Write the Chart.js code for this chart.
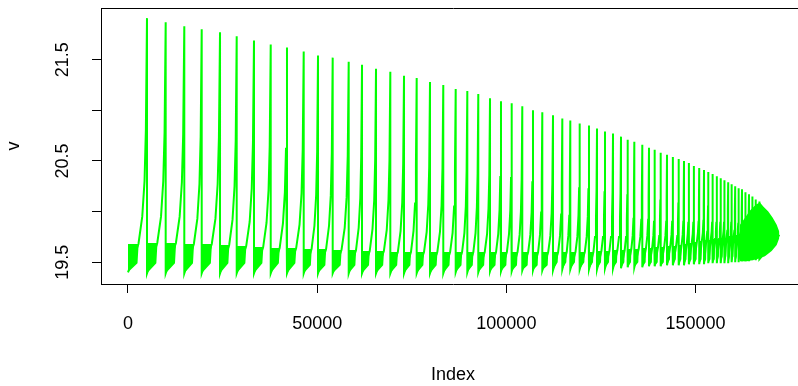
<!DOCTYPE html>
<html>
<head>
<meta charset="utf-8">
<script src="https://cdn.jsdelivr.net/npm/chart.js@4/dist/chart.umd.min.js"></script>
<style>
html,body{margin:0;padding:0;overflow:hidden;background:#fff;width:798px;height:386px}
#wrap{position:absolute;left:0;top:0;width:812px;height:386px}
</style>
</head>
<body>
<div id="wrap"><canvas id="c" width="812" height="386"></canvas></div>
<script>
// ---- data ----
const spikeIdx = [5020, 9960, 14880, 19480, 24320, 28730, 33300, 37720, 42020, 46440,
  50220, 54100, 58330, 61850, 65550, 69330, 72950, 76300, 79820, 83330,
  86610, 89680, 92580, 95680, 98580, 101410, 104210, 107040, 109500, 112330,
  114790, 116900, 119380, 121840, 123960, 126070, 128190, 130300, 132070, 133820,
  135930, 137700, 139230, 140790, 142460, 144040, 145550, 146950, 148270, 149590,
  150970, 152240, 153370, 154540, 155650, 156680, 157660, 158630, 159560, 160480,
  161410, 162280, 163210, 164130, 165030, 165950, 166880];
const spikePeak = [21.91, 21.87, 21.83, 21.80, 21.77, 21.73, 21.69, 21.65, 21.62, 21.58,
  21.54, 21.52, 21.48, 21.45, 21.41, 21.38, 21.34, 21.32, 21.28, 21.25,
  21.21, 21.19, 21.16, 21.12, 21.09, 21.07, 21.04, 21.00, 20.98, 20.95,
  20.92, 20.90, 20.87, 20.85, 20.82, 20.79, 20.77, 20.74, 20.71, 20.69,
  20.66, 20.63, 20.61, 20.58, 20.56, 20.54, 20.52, 20.50, 20.48, 20.45,
  20.43, 20.41, 20.39, 20.37, 20.35, 20.33, 20.31, 20.29, 20.27, 20.25,
  20.23, 20.22, 20.19, 20.17, 20.15, 20.12, 20.10];
const cycleLow = [19.40, 19.39, 19.39, 19.39, 19.39, 19.39, 19.39, 19.39, 19.39, 19.39,
  19.39, 19.39, 19.39, 19.39, 19.39, 19.39, 19.39, 19.39, 19.39, 19.39,
  19.39, 19.40, 19.40, 19.40, 19.41, 19.41, 19.41, 19.42, 19.42, 19.42,
  19.42, 19.43, 19.43, 19.43, 19.43, 19.43, 19.44, 19.44, 19.44, 19.45,
  19.45, 19.45, 19.46, 19.46, 19.46, 19.47, 19.47, 19.47, 19.47, 19.48,
  19.48, 19.48, 19.48, 19.49, 19.49, 19.49, 19.49, 19.49, 19.49, 19.50,
  19.50, 19.50, 19.51, 19.51, 19.51, 19.52, 19.52, 19.53];
const blobEndLow = [19.49, 19.49, 19.49, 19.49, 19.49, 19.49, 19.49, 19.49, 19.49, 19.49,
  19.47, 19.47, 19.47, 19.47, 19.47, 19.47, 19.47, 19.47, 19.47, 19.47,
  19.47, 19.47, 19.47, 19.47, 19.47, 19.47, 19.47, 19.47, 19.47, 19.47,
  19.50, 19.50, 19.50, 19.50, 19.50, 19.50, 19.50, 19.50, 19.50, 19.50,
  19.50, 19.50, 19.50, 19.50, 19.50, 19.53, 19.53, 19.53, 19.53, 19.53,
  19.53, 19.53, 19.53, 19.53, 19.53, 19.56, 19.56, 19.56, 19.56, 19.56,
  19.56, 19.56, 19.56, 19.56, 19.56, 19.56, 19.56];
const cycleTop = [19.68, 19.69, 19.69, 19.68, 19.68, 19.67, 19.66, 19.65, 19.64, 19.64,
  19.63, 19.63, 19.62, 19.62, 19.61, 19.61, 19.60, 19.60, 19.60, 19.60,
  19.60, 19.60, 19.60, 19.60, 19.60, 19.60, 19.60, 19.60, 19.60, 19.60,
  19.60, 19.60, 19.60, 19.60, 19.60, 19.61, 19.61, 19.62, 19.62, 19.63,
  19.63, 19.64, 19.64, 19.65, 19.65, 19.66, 19.66, 19.67, 19.68, 19.69,
  19.70, 19.71, 19.72, 19.72, 19.73, 19.73, 19.74, 19.74, 19.75, 19.75,
  19.76, 19.76, 19.77, 19.77, 19.78, 19.78, 19.79];
const rampA = [19.95, 19.95, 19.95, 19.93, 19.93, 19.92, 19.90, 19.89, 19.88, 19.87,
  19.86, 19.86, 19.84, 19.84, 19.83, 19.82, 19.81, 19.81, 19.80, 19.80,
  19.79, 19.79, 19.79, 19.78, 19.78, 19.78, 19.77, 19.77, 19.77, 19.76,
  19.76, 19.76, 19.75, 19.75, 19.75, 19.75, 19.75, 19.75, 19.75, 19.76,
  19.75, 19.76, 19.76, 19.76, 19.76, 19.77, 19.76, 19.77, 19.78, 19.78,
  19.79, 19.79, 19.80, 19.80, 19.80, 19.80, 19.81, 19.81, 19.81, 19.81,
  19.82, 19.82, 19.82, 19.82, 19.82, 19.82, 19.83];
const rampB = [20.30, 20.30, 20.29, 20.27, 20.27, 20.25, 20.23, 20.21, 20.19, 20.18,
  20.16, 20.16, 20.14, 20.13, 20.11, 20.11, 20.09, 20.08, 20.07, 20.06,
  20.05, 20.05, 20.04, 20.03, 20.02, 20.01, 20.00, 19.99, 19.99, 19.98,
  19.97, 19.96, 19.96, 19.95, 19.94, 19.94, 19.93, 19.93, 19.93, 19.93,
  19.92, 19.92, 19.91, 19.91, 19.90, 19.91, 19.90, 19.90, 19.90, 19.90,
  19.90, 19.91, 19.91, 19.90, 19.90, 19.90, 19.90, 19.89, 19.90, 19.89,
  19.89, 19.89, 19.89, 19.88, 19.88, 19.88, 19.88];
const rampC = [20.80, 20.78, 20.76, 20.74, 20.73, 20.70, 20.68, 20.65, 20.63, 20.61,
  20.59, 20.58, 20.55, 20.54, 20.51, 20.50, 20.47, 20.46, 20.44, 20.43,
  20.41, 20.40, 20.38, 20.36, 20.35, 20.34, 20.32, 20.30, 20.29, 20.28,
  20.26, 20.25, 20.24, 20.23, 20.21, 20.20, 20.19, 20.18, 20.17, 20.16,
  20.15, 20.14, 20.13, 20.12, 20.11, 20.10, 20.09, 20.09, 20.08, 20.07,
  20.07, 20.06, 20.06, 20.05, 20.04, 20.03, 20.03, 20.02, 20.01, 20.00,
  20.00, 19.99, 19.98, 19.97, 19.97, 19.95, 19.95];
// final solid blob (end of the series)
const tailUpperIdx = [161750, 163070, 164390, 165980, 167040, 167910, 169230, 170400, 171450, 172140, 172170];
const tailUpperVal = [19.87, 19.94, 20.01, 20.07, 20.09, 20.05, 20.00, 19.94, 19.87, 19.80, 19.77];
const tailLowerIdx = [161750, 163600, 166160, 168350, 170120, 171450, 172140, 172170];
const tailLowerVal = [19.51, 19.51, 19.53, 19.56, 19.61, 19.67, 19.74, 19.77];

const xTicks = [0, 50000, 100000, 150000];
const xTickLabels = ['0', '50000', '100000', '150000'];
const yTicks = [19.5, 20, 20.5, 21, 21.5];
const yTickLabels = ['19.5', '', '20.5', '', '21.5'];
const xTitle = 'Index';
const yTitle = 'v';

// ---- build library datasets from the arrays ----
const trace = [], blobUpper = [], blobLower = [];
let start = 1;
for (let i = 0; i < spikeIdx.length; i++) {
  const end = spikeIdx[i], w = end - start;
  trace.push({x: start, y: cycleLow[i]});
  trace.push({x: start + 0.55 * w, y: cycleTop[i]});
  trace.push({x: start + 0.75 * w, y: rampA[i]});
  trace.push({x: start + 0.87 * w, y: rampB[i]});
  trace.push({x: start + 0.94 * w, y: rampC[i]});
  trace.push({x: end, y: spikePeak[i]});
  blobUpper.push({x: start, y: cycleTop[i]}, {x: end, y: cycleTop[i]});
  blobLower.push({x: start, y: cycleLow[i]}, {x: start + 0.5 * w, y: blobEndLow[i]},
                 {x: start + 0.56 * w, y: cycleTop[i]}, {x: end, y: cycleTop[i]});
  start = end;
}
trace.push({x: start, y: cycleLow[cycleLow.length - 1]});
trace.push({x: tailUpperIdx[tailUpperIdx.length - 1], y: tailUpperVal[tailUpperVal.length - 1]});
const tailUpper = tailUpperIdx.map((x, i) => ({x, y: tailUpperVal[i]}));
const tailLower = tailLowerIdx.map((x, i) => ({x, y: tailLowerVal[i]}));

const GREEN = '#00ff00';
const FONT = {family: '"Liberation Sans", Arial, sans-serif', size: 18};

new Chart(document.getElementById('c'), {
  type: 'line',
  data: {
    datasets: [
      {data: trace, borderColor: GREEN, borderWidth: 2, pointRadius: 0, fill: false, tension: 0},
      {data: blobLower, borderWidth: 0, pointRadius: 0, fill: false, borderColor: GREEN},
      {data: blobUpper, borderWidth: 0, pointRadius: 0, fill: '-1', backgroundColor: GREEN, borderColor: GREEN},
      {data: tailLower, borderWidth: 0, pointRadius: 0, fill: false, borderColor: GREEN},
      {data: tailUpper, borderWidth: 0, pointRadius: 0, fill: '-1', backgroundColor: GREEN, borderColor: GREEN}
    ]
  },
  options: {
    responsive: false,
    animation: false,
    devicePixelRatio: 1,
    layout: {padding: {top: 8, right: 7, left: 0, bottom: 0}},
    plugins: {legend: {display: false}, tooltip: {enabled: false}},
    elements: {point: {radius: 0}, line: {tension: 0}},
    scales: {
      x: {
        type: 'linear', position: 'bottom', min: -7136, max: 178930,
        afterBuildTicks: s => { s.ticks = xTicks.map(v => ({value: v})); },
        afterFit: s => { s.height = 102; s.paddingLeft = 0; s.paddingRight = 0; },
        grid: {drawOnChartArea: false, drawTicks: true, tickLength: 9, color: '#000', tickColor: '#000'},
        border: {display: true, color: '#000', width: 1},
        ticks: {padding: 20, color: '#000', font: FONT, maxRotation: 0, minRotation: 0, autoSkip: false,
                callback: (v, i) => xTickLabels[i]},
        title: {display: true, text: xTitle, color: '#000', font: FONT, padding: {top: 0, bottom: 0}}
      },
      x2: {
        type: 'linear', position: 'top', min: -7136, max: 178930,
        afterFit: s => { s.height = 0; s.paddingLeft = 0; s.paddingRight = 0; },
        grid: {display: true, drawOnChartArea: false, drawTicks: false},
        border: {display: true, color: '#000', width: 1},
        ticks: {display: false}
      },
      y: {
        type: 'linear', position: 'left', min: 19.285, max: 22.01,
        afterBuildTicks: s => { s.ticks = yTicks.map(v => ({value: v})); },
        afterFit: s => { s.width = 101; s.paddingTop = 0; s.paddingBottom = 0; },
        grid: {drawOnChartArea: false, drawTicks: true, tickLength: 9, color: '#000', tickColor: '#000'},
        border: {display: true, color: '#000', width: 1},
        ticks: {padding: 11, color: '#000', font: FONT, minRotation: 90, maxRotation: 90, crossAlign: 'center',
                autoSkip: false, callback: (v, i) => yTickLabels[i]},
        title: {display: true, text: yTitle, color: '#000', font: FONT, padding: {top: 3, bottom: 0}}
      }
    }
  }
});
</script>
</body>
</html>
